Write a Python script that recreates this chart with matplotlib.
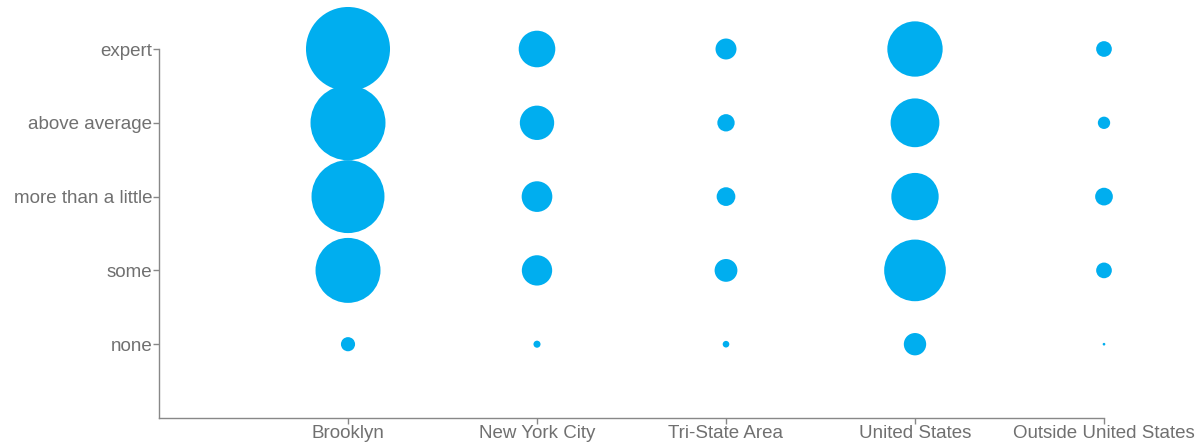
import numpy as np
import matplotlib.pyplot as plt

plt.rcParams['font.family'] = ['Liberation Sans', 'DejaVu Sans']

# categories
places = ['Brooklyn', 'New York City', 'Tri-State Area', 'United States', 'Outside United States']
levels = ['none', 'some', 'more than a little', 'above average', 'expert']

# counts per place, ordered like levels (none -> expert)
brooklyn = [10, 211, 266, 281, 353]
nyc = [2.5, 46, 47, 59, 67]
tristate = [2.2, 26, 17.5, 15, 22]
us = [25, 190, 112, 119, 153]
outside = [0.36, 12.3, 15.7, 7.6, 12.3]

counts = np.array([brooklyn, nyc, tristate, us, outside])

fig = plt.figure(figsize=(12.04, 4.48), dpi=100)
ax = fig.add_axes([159 / 1204, 30 / 448, 945 / 1204, 369 / 448])

xs, ys = np.meshgrid(np.arange(len(places)), np.arange(len(levels)), indexing='ij')
ax.scatter(xs.ravel(), ys.ravel(), s=counts.ravel() * 10.37, color='#00aeef',
           edgecolors='none', clip_on=False, zorder=3)

ax.set_xlim(-1, len(places) - 1)
ax.set_ylim(-1, len(levels) - 1)
ax.set_xticks(range(len(places)))
ax.set_xticklabels(places)
ax.set_yticks(range(len(levels)))
ax.set_yticklabels(levels)

for s in ['top', 'right']:
    ax.spines[s].set_visible(False)
for s in ['left', 'bottom']:
    ax.spines[s].set_color('#888888')
    ax.spines[s].set_linewidth(1)
ax.tick_params(colors='#888888', length=4, width=1, labelsize=13.5,
               labelcolor='#707070', pad=1)

fig.savefig('out.png', dpi=100)
